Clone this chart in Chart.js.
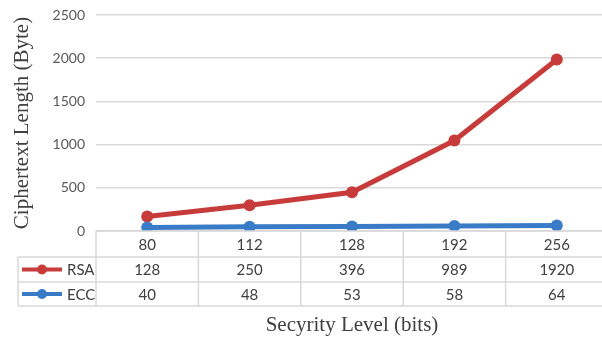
<!DOCTYPE html>
<html>
<head>
<meta charset="utf-8">
<script src="https://cdn.jsdelivr.net/npm/chart.js@4/dist/chart.umd.min.js"></script>
<style>
  html, body { margin: 0; padding: 0; background: #fff; }
  #wrap { width: 602px; height: 337px; overflow: hidden; position: relative; }
  canvas { display: block; }
</style>
</head>
<body>
<div id="wrap"><canvas id="c" width="614" height="337"></canvas></div>
<script>
// Security levels (bits) and ciphertext sizes (bytes)
const levels = ['80', '112', '128', '192', '256'];
const rsaValues = [128, 250, 396, 989, 1920];
const eccValues = [40, 48, 53, 58, 64];
const yTicks = [0, 500, 1000, 1500, 2000, 2500];

const RED = '#C73B3A';
const BLUE = '#3A7BC8';
const GRID = '#D9D9D9';
const TEXT = '#404040';
const TICK = '#595959';
const SANS = 'Lato, "Open Sans", sans-serif';
const SERIF = '"Liberation Serif", "DejaVu Serif", serif';

const tableRows = [
  { name: 'RSA', color: RED, values: rsaValues },
  { name: 'ECC', color: BLUE, values: eccValues }
];

// Data table underneath the plot plus both axis titles
const tablePlugin = {
  id: 'dataTable',
  afterDraw(chart) {
    const ctx = chart.ctx;
    const area = chart.chartArea;
    const xs = chart.scales.x;
    const n = levels.length;
    const colW = (area.right - area.left) / n;
    const top = area.bottom;
    const rowH = [26, 25, 24];
    const y1 = top + rowH[0];
    const y2 = y1 + rowH[1];
    const y3 = y2 + rowH[2];
    const legendLeft = 18;

    ctx.save();
    ctx.strokeStyle = GRID;
    ctx.lineWidth = 1.5;
    ctx.beginPath();
    // horizontal rules
    ctx.moveTo(area.left, top); ctx.lineTo(area.right, top);
    [y1, y2, y3].forEach(y => { ctx.moveTo(legendLeft, y); ctx.lineTo(area.right, y); });
    // vertical rules
    for (let i = 0; i <= n; i++) {
      const x = area.left + i * colW;
      ctx.moveTo(x, top); ctx.lineTo(x, y3);
    }
    ctx.moveTo(legendLeft, y1); ctx.lineTo(legendLeft, y3);
    ctx.stroke();

    ctx.font = '15px ' + SANS;
    ctx.fillStyle = TEXT;
    ctx.textAlign = 'center';
    ctx.textBaseline = 'middle';
    levels.forEach((lv, i) => {
      const x = xs.getPixelForValue(i);
      ctx.fillText(lv, x, (top + y1) / 2 + 1);
    });
    tableRows.forEach((row, r) => {
      const yTop = r === 0 ? y1 : y2;
      const yMid = yTop + (r === 0 ? rowH[1] : rowH[2]) / 2 + 1;
      row.values.forEach((v, i) => {
        ctx.fillText(String(v), xs.getPixelForValue(i), yMid);
      });
      // legend key
      ctx.strokeStyle = row.color;
      ctx.lineWidth = 4;
      ctx.beginPath();
      ctx.moveTo(22, yMid - 1); ctx.lineTo(62, yMid - 1);
      ctx.stroke();
      ctx.fillStyle = row.color;
      ctx.beginPath();
      ctx.arc(42, yMid - 1, 5, 0, Math.PI * 2);
      ctx.fill();
      ctx.fillStyle = TEXT;
      ctx.textAlign = 'left';
      ctx.fillText(row.name, 67, yMid);
      ctx.textAlign = 'center';
    });

    // axis titles
    ctx.fillStyle = TEXT;
    ctx.font = '21px ' + SERIF;
    ctx.textAlign = 'center';
    ctx.textBaseline = 'middle';
    ctx.fillText('Secyrity Level (bits)', (area.left + area.right) / 2, 325);
    ctx.translate(22, 123);
    ctx.rotate(-Math.PI / 2);
    ctx.fillText('Ciphertext Length (Byte)', 0, 0);
    ctx.restore();
  }
};

new Chart(document.getElementById('c'), {
  type: 'line',
  data: {
    labels: levels,
    datasets: [
      {
        label: 'ECC',
        data: eccValues,
        borderColor: BLUE,
        backgroundColor: BLUE,
        borderWidth: 5,
        pointRadius: 6,
        pointBorderWidth: 0,
        fill: false,
        stack: 's'
      },
      {
        label: 'RSA',
        data: rsaValues,
        borderColor: RED,
        backgroundColor: RED,
        borderWidth: 5,
        pointRadius: 6,
        pointBorderWidth: 0,
        fill: false,
        stack: 's'
      }
    ]
  },
  options: {
    responsive: false,
    animation: false,
    devicePixelRatio: 1,
    layout: { padding: { top: 15, left: 0, right: 0, bottom: 106 } },
    plugins: { legend: { display: false }, tooltip: { enabled: false } },
    scales: {
      x: { display: false, offset: true },
      y: {
        stacked: true,
        min: 0,
        max: 2500,
        afterBuildTicks(scale) { scale.ticks = yTicks.map(v => ({ value: v })); },
        afterFit(scale) {
          scale.width = 96;
          scale.paddingTop = 0;
          scale.paddingBottom = 0;
        },
        ticks: {
          color: TICK,
          font: { family: SANS, size: 14 },
          padding: 11,
          callback: v => String(v)
        },
        grid: { color: GRID, lineWidth: 1.5, drawTicks: false },
        border: { display: false }
      }
    }
  },
  plugins: [tablePlugin]
});
</script>
</body>
</html>
